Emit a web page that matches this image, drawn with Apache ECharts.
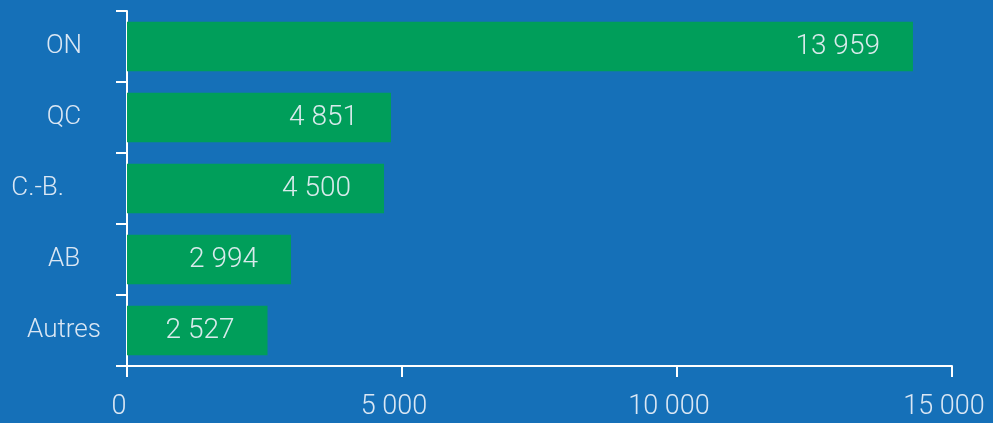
<!DOCTYPE html>
<html>
<head>
<meta charset="utf-8">
<script src="https://cdn.jsdelivr.net/npm/echarts@6/dist/echarts.min.js"></script>
<style>
html,body{margin:0;padding:0;background:#1570B8;}
#c{width:993px;height:423px;}
</style>
</head>
<body>
<div id="c"></div>
<script>
// Categories (top to bottom)
const categories = ['ON', 'QC', 'C.-B.', 'AB', 'Autres'];
// Bar lengths as drawn in the picture
const barValues = [14290, 4800, 4673, 2982, 2555];
// Value labels as printed on the bars
const valueLabels = ['13 959', '4 851', '4 500', '2 994', '2 527'];
// X axis ticks
const xTicks = [0, 5000, 10000, 15000];

const fmt = v => String(v).replace(/\B(?=(\d{3})+(?!\d))/g, ' ');
const textColor = 'rgba(236,241,248,0.92)';
const fontFamily = 'Roboto, "Liberation Sans", sans-serif';

const chart = echarts.init(document.getElementById('c'), null, {renderer: 'canvas'});
chart.setOption({
  backgroundColor: '#1570B8',
  animation: false,
  grid: {left: 127, right: 41, top: 11, bottom: 57, containLabel: false, outerBoundsMode: 'none'},
  xAxis: {
    type: 'value',
    min: xTicks[0],
    max: xTicks[xTicks.length - 1],
    interval: xTicks[1] - xTicks[0],
    axisLine: {show: true, lineStyle: {color: '#ffffff', width: 2}},
    axisTick: {show: true, length: 11, lineStyle: {color: '#ffffff', width: 2}},
    splitLine: {show: false},
    axisLabel: {
      color: textColor, fontSize: 27, fontWeight: 300, fontFamily: fontFamily,
      margin: 28, padding: [0, 16, 0, 0], formatter: v => fmt(v)
    }
  },
  yAxis: {
    type: 'category',
    inverse: true,
    data: categories.map(c => c === 'C.-B.' ? {value: c, textStyle: {align: 'right', padding: [0, 0, 0, 0]}} : c),
    axisLine: {show: true, lineStyle: {color: '#ffffff', width: 2}},
    axisTick: {show: true, length: 11, alignWithLabel: false, lineStyle: {color: '#ffffff', width: 2}},
    axisLabel: {
      color: textColor, fontSize: 26, fontWeight: 300, fontFamily: fontFamily,
      align: 'center', margin: 63
    }
  },
  series: [{
    type: 'bar',
    data: barValues,
    barCategoryGap: '30%',
    itemStyle: {color: '#009E5A'},
    label: {
      show: true,
      position: 'insideRight',
      distance: 33,
      color: textColor,
      fontSize: 28,
      fontWeight: 300,
      fontFamily: fontFamily,
      formatter: p => valueLabels[p.dataIndex]
    }
  }]
});
</script>
</body>
</html>
